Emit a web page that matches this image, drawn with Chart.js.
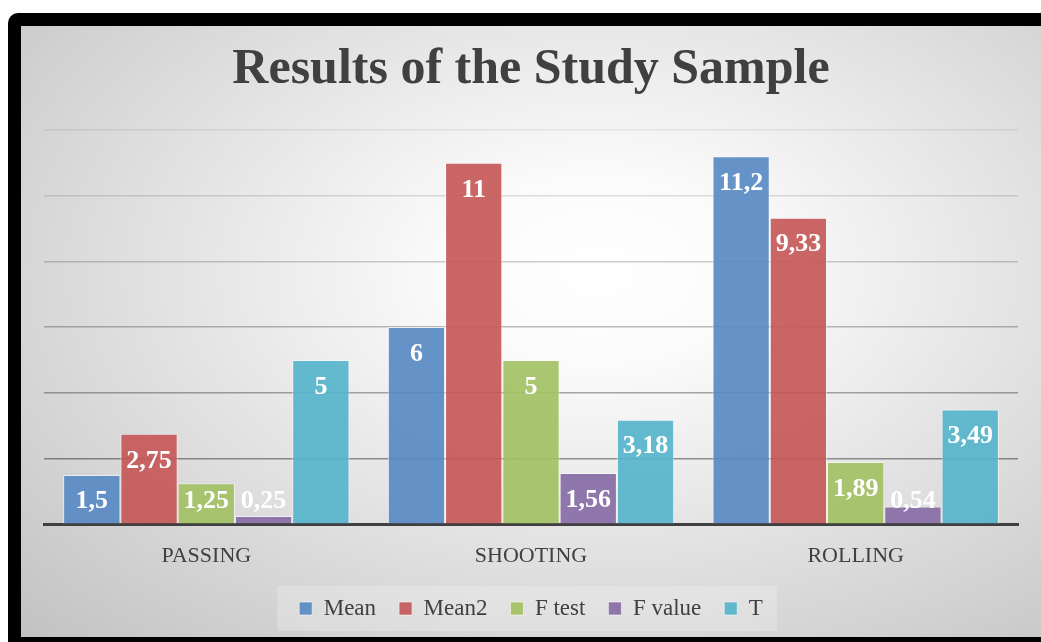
<!DOCTYPE html>
<html><head><meta charset="utf-8">
<script src="https://cdn.jsdelivr.net/npm/chart.js@4"></script>
<style>
html,body{margin:0;padding:0;width:1041px;height:642px;overflow:hidden;background:#fff;}
#frame{position:absolute;left:8px;top:13px;width:1030px;height:611px;border:13px solid #000;border-radius:10px 10px 0 0;
background:radial-gradient(ellipse farthest-corner at 56% 40%, #ffffff 0%, #fbfbfb 18%, #c2c2c2 100%);}
#c{position:absolute;left:0;top:0;}
</style></head>
<body>
<div id="frame"></div>
<canvas id="c" width="1041" height="642"></canvas>
<script>
const categories = ['PASSING', 'SHOOTING', 'ROLLING'];
const seriesNames = ['Mean', 'Mean2', 'F test', 'F value', 'T'];
const mean = [1.5, 6, 11.2];
const mean2 = [2.75, 11, 9.33];
const fTest = [1.25, 5, 1.89];
const fValue = [0.25, 1.56, 0.54];
const tValues = [5, 3.18, 3.49];
const yTicks = [0, 2, 4, 6, 8, 10, 12];

const seriesData = [mean, mean2, fTest, fValue, tValues];
const seriesColors = ['rgba(86,136,194,0.9)', 'rgba(196,87,85,0.9)', 'rgba(162,192,96,0.9)', 'rgba(134,106,164,0.9)', 'rgba(83,178,202,0.9)'];
const gridAlpha = {0: 0, 2: 0.40, 4: 0.33, 6: 0.26, 8: 0.19, 10: 0.12, 12: 0.07};

const valueLabels = {
  id: 'valueLabels',
  afterDatasetsDraw(chart) {
    const ctx = chart.ctx;
    ctx.save();
    ctx.font = 'bold 26px "Liberation Serif"';
    ctx.fillStyle = '#ffffff';
    ctx.textAlign = 'center';
    ctx.textBaseline = 'middle';
    chart.data.datasets.forEach((ds, i) => {
      const meta = chart.getDatasetMeta(i);
      meta.data.forEach((bar, j) => {
        const v = ds.data[j];
        const y = Math.min(bar.y + 27, bar.base - 22);
        ctx.fillText(String(v).replace('.', ','), bar.x, y);
      });
    });
    ctx.restore();
  }
};

const legendBg = {
  id: 'legendBg',
  beforeDraw(chart) {
    const hb = chart.legend && chart.legend.legendHitBoxes;
    if (!hb || !hb.length) return;
    let l = Infinity, r = -Infinity, t = Infinity, b = -Infinity;
    hb.forEach(h => { l = Math.min(l, h.left); r = Math.max(r, h.left + h.width); t = Math.min(t, h.top); b = Math.max(b, h.top + h.height); });
    const ctx = chart.ctx;
    ctx.save();
    ctx.fillStyle = 'rgba(255,255,255,0.22)';
    ctx.fillRect(l - 22, t - 11, (r - l) + 36, (b - t) + 22);
    ctx.restore();
  }
};

new Chart(document.getElementById('c'), {
  type: 'bar',
  data: {
    labels: categories,
    datasets: seriesNames.map((name, i) => ({
      label: name,
      data: seriesData[i],
      backgroundColor: seriesColors[i],
      borderColor: 'rgba(255,255,255,0.55)',
      borderWidth: 1,
      barPercentage: 1,
      categoryPercentage: 0.882
    }))
  },
  options: {
    responsive: false,
    devicePixelRatio: 1,
    animation: false,
    layout: { padding: { top: 10, left: 44, right: 23, bottom: 12 } },
    scales: {
      x: {
        z: 1,
        afterFit(scale) { scale.height = 45; },
        grid: { display: false, drawTicks: false },
        border: { display: true, color: '#404040', width: 3 },
        ticks: { color: '#404040', padding: 19, font: { family: 'Liberation Serif', size: 22 } }
      },
      y: {
        min: 0, max: 12,
        afterBuildTicks(axis) { axis.ticks = yTicks.map(v => ({ value: v })); },
        ticks: { display: false },
        grid: { drawTicks: false, lineWidth: 1.5, color: c => 'rgba(0,0,0,' + (gridAlpha[c.tick ? c.tick.value : 0] || 0) + ')' },
        border: { display: false }
      }
    },
    plugins: {
      title: {
        display: true,
        text: 'Results of the Study Sample',
        color: '#404040',
        font: { family: 'Liberation Serif', size: 50, weight: 'bold' },
        padding: { top: 30, bottom: 30 }
      },
      legend: {
        position: 'bottom',
        title: { display: true, text: ' ', font: { size: 4 }, padding: 0 },
        labels: {
          color: '#404040',
          font: { family: 'Liberation Serif', size: 23 },
          boxWidth: 13, boxHeight: 13,
          padding: 23
        }
      },
      tooltip: { enabled: false }
    }
  },
  plugins: [legendBg, valueLabels]
});
</script>
</body></html>
